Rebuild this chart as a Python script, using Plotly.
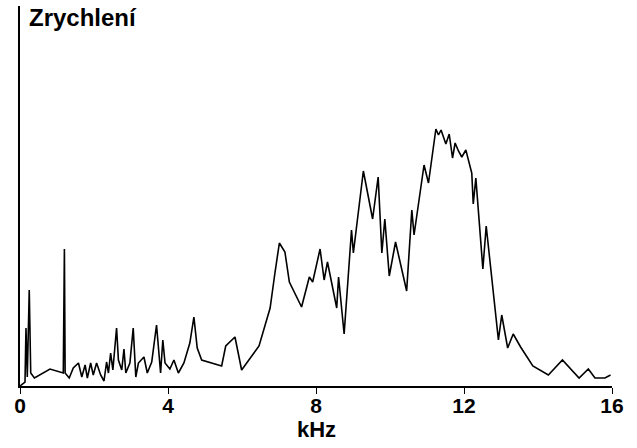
import plotly.graph_objects as go

# Frequency (kHz) and acceleration amplitude (arbitrary units)
freq_khz = [0.0, 0.135, 0.162, 0.197, 0.25, 0.29, 0.39, 0.81, 1.17, 1.20, 1.22, 1.33, 1.44, 1.58,
            1.67, 1.76, 1.82, 1.91, 1.98, 2.07, 2.18, 2.27, 2.34, 2.39, 2.45, 2.51, 2.61, 2.66,
            2.75, 2.81, 2.86, 2.97, 3.06, 3.13, 3.20, 3.35, 3.44, 3.56, 3.69, 3.80, 3.86, 3.92,
            4.05, 4.16, 4.28, 4.43, 4.59, 4.70, 4.79, 4.91, 5.45, 5.56, 5.81, 5.99, 6.46, 6.76,
            6.89, 7.01, 7.16, 7.28, 7.61, 7.82, 7.91, 8.11, 8.22, 8.31, 8.56, 8.61, 8.76, 8.96,
            9.01, 9.28, 9.53, 9.68, 9.78, 9.86, 9.98, 10.15, 10.45, 10.59, 10.65, 10.92, 11.04,
            11.24, 11.31, 11.38, 11.51, 11.60, 11.69, 11.76, 11.85, 11.94, 12.05, 12.21, 12.25,
            12.32, 12.51, 12.60, 12.93, 13.02, 13.18, 13.33, 13.53, 13.86, 14.28, 14.66, 15.11,
            15.36, 15.54, 15.81, 15.96]
amplitude = [0, 4, 58, 9, 96, 13, 8, 17, 13, 137, 13, 8, 18, 23,
             9, 21, 8, 23, 11, 23, 11, 5, 24, 13, 33, 16, 58, 26,
             16, 37, 13, 23, 58, 9, 23, 29, 13, 24, 61, 13, 46, 23,
             17, 26, 13, 23, 43, 69, 38, 26, 20, 40, 49, 16, 40, 78,
             113, 143, 134, 104, 79, 109, 104, 137, 106, 124, 78, 109, 52, 156,
             133, 215, 167, 209, 133, 167, 110, 144, 95, 176, 151, 221, 203,
             257, 251, 256, 242, 252, 228, 243, 235, 229, 236, 213, 182,
             208, 117, 160, 46, 71, 38, 52, 39, 20, 11, 26, 8,
             17, 8, 8, 11]

x_ticks = [0, 4, 8, 12, 16]
x_tick_labels = ["0", "4", "8", "12", "16"]
x_title = "kHz"
chart_title = "Zrychlení"

FONT = "Arial, 'Liberation Sans', sans-serif"

fig = go.Figure(go.Scatter(
    x=freq_khz, y=amplitude, mode="lines",
    line=dict(color="black", width=1.6),
    hoverinfo="skip", showlegend=False,
))

fig.update_layout(
    width=637, height=448,
    margin=dict(l=20, r=25, t=6, b=62),
    paper_bgcolor="white", plot_bgcolor="white",
    title=dict(text=f"<b>{chart_title}</b>", xref="container", yref="container",
               x=29/637, xanchor="left", y=1 - 18/448, yanchor="middle",
               font=dict(family=FONT, size=24, color="black")),
    xaxis=dict(range=[0, 16], tickvals=x_ticks, ticktext=[f"<b>{t}</b>" for t in x_tick_labels],
               showline=True, linecolor="black", linewidth=1.5, automargin=False,
               ticks="outside", ticklen=6, tickwidth=1.2, tickcolor="black",
               ticklabelstandoff=-6,
               showgrid=False, zeroline=False,
               tickfont=dict(family=FONT, size=21, color="black")),
    yaxis=dict(range=[0, 380], showline=True, linecolor="black", linewidth=1.5, automargin=False,
               showticklabels=False, ticks="", showgrid=False, zeroline=False),
    annotations=[dict(text=f"<b>{x_title}</b>", xref="paper", yref="paper",
                      x=0.5, y=-(429 - 386) / 380, xanchor="center", yanchor="middle",
                      showarrow=False, font=dict(family=FONT, size=22, color="black"))],
)

fig.write_html("out.html", config={"displayModeBar": False},
               post_script="document.body.style.margin='0';document.body.style.overflow='hidden';")
